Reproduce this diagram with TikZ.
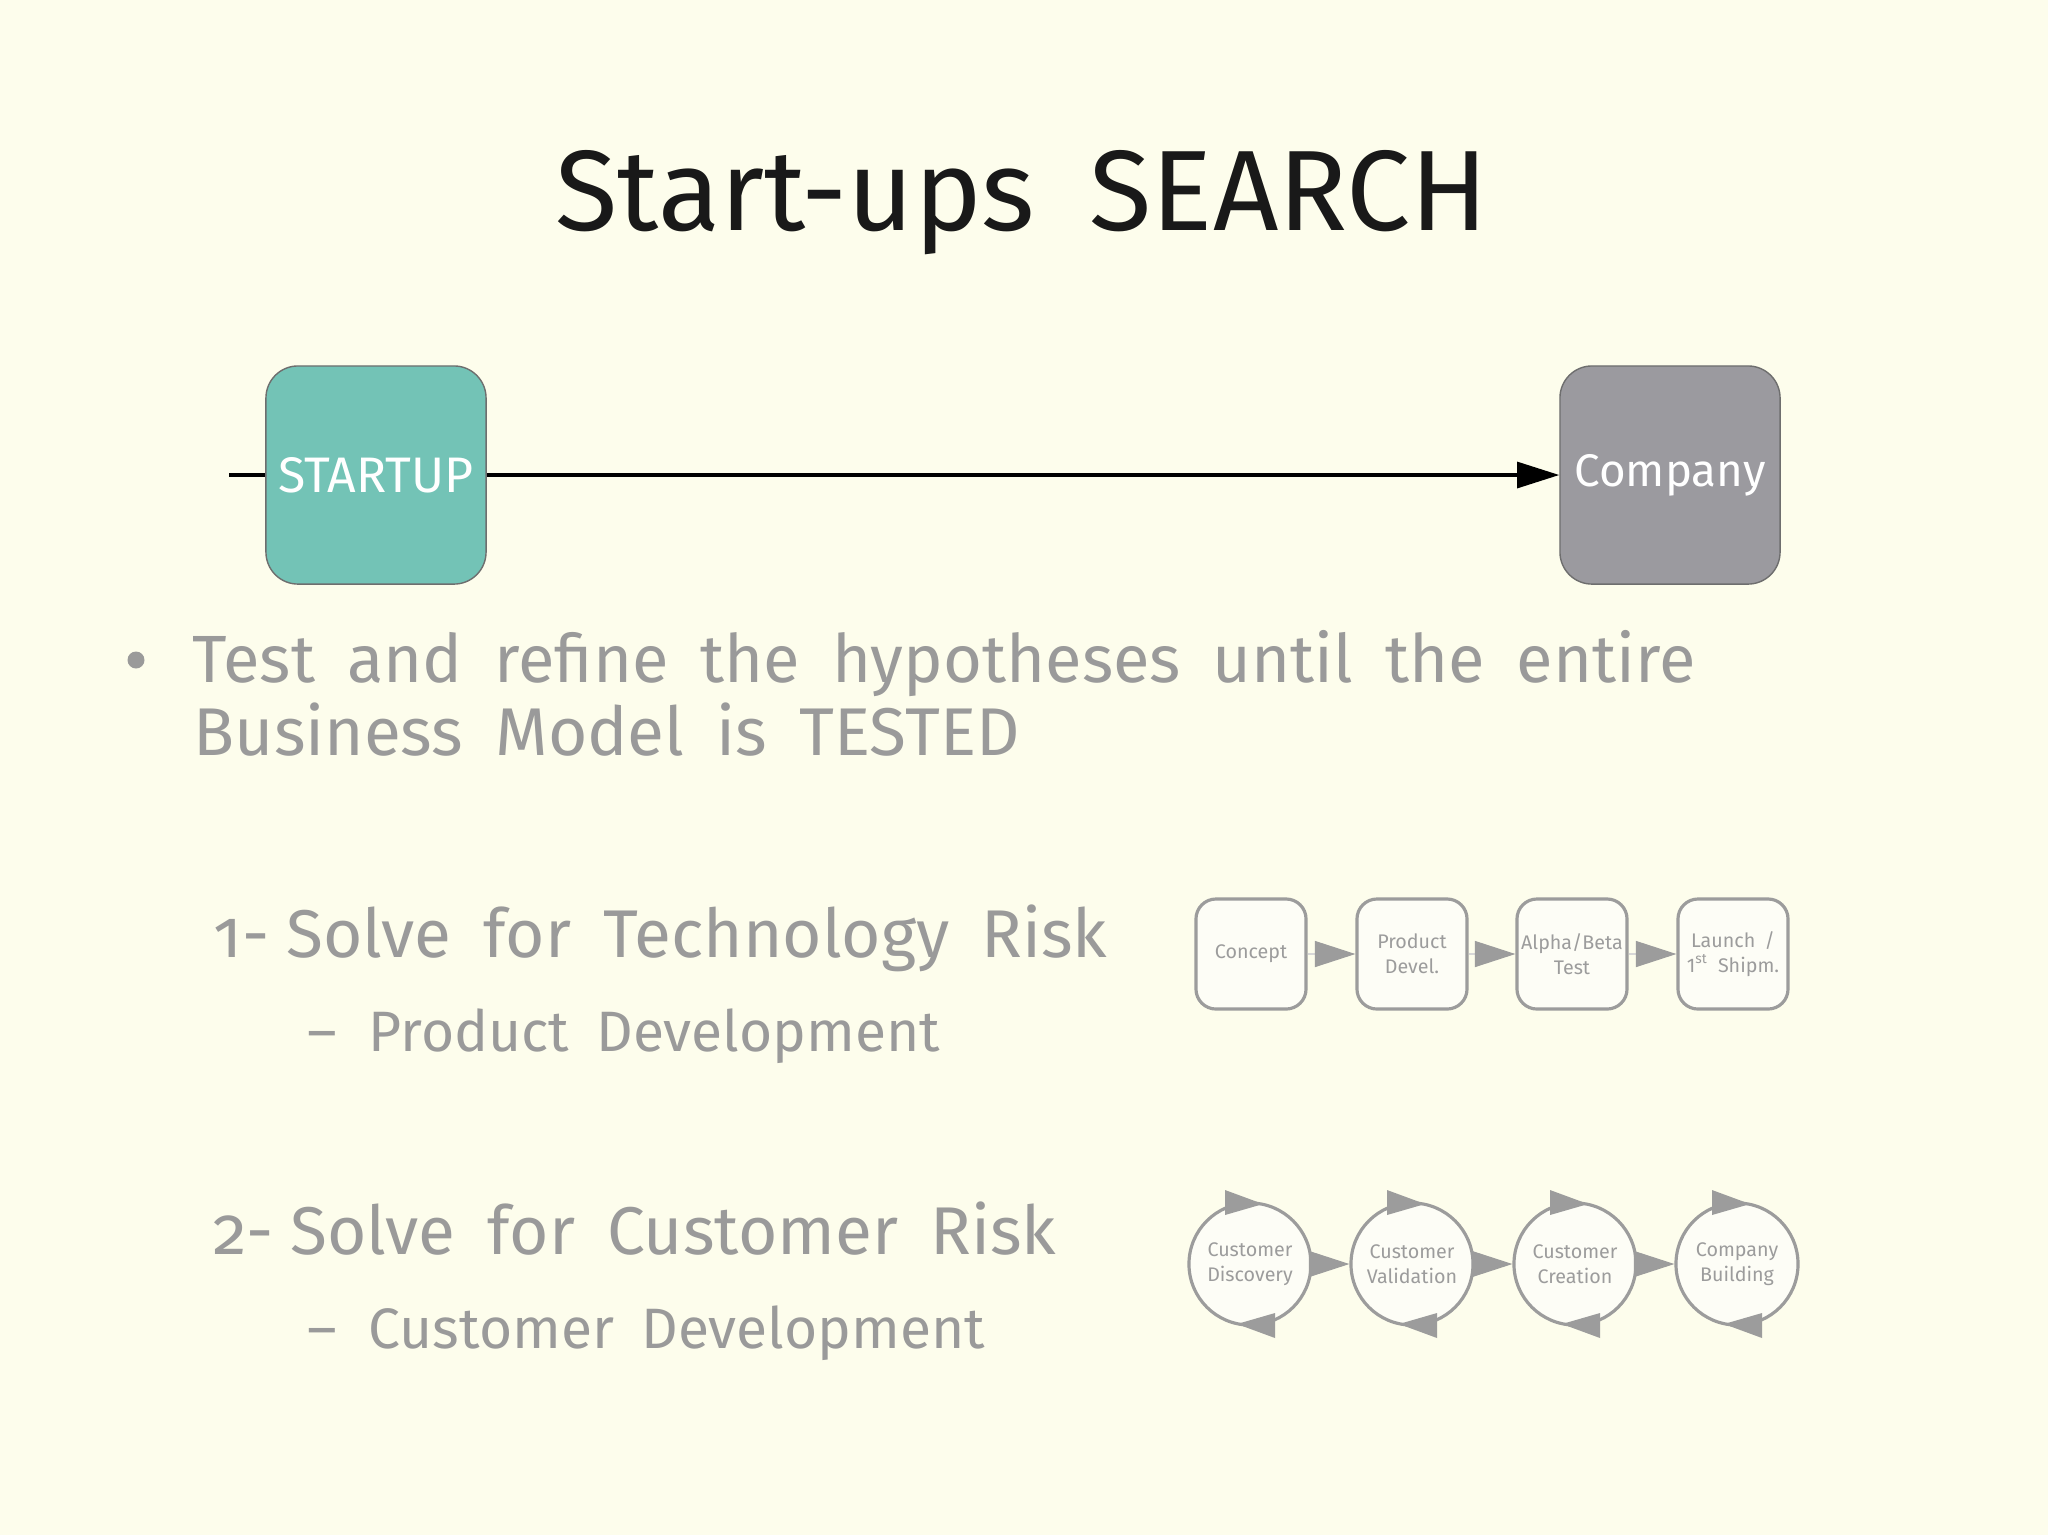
\documentclass[tikz,border=0pt]{standalone}
\usepackage{fontspec}
\setmainfont[Numbers=OldStyle,WordSpace=1.8]{Fira Sans}
\usetikzlibrary{arrows.meta,positioning,calc}

\definecolor{fondo}{HTML}{FDFDEC}
\definecolor{verde}{HTML}{73C3B6}
\definecolor{grisbloque}{HTML}{9B9A9F}
\definecolor{bordegris}{HTML}{6E6E6E}
\definecolor{gristexto}{HTML}{9A9A9A}
\definecolor{grisfino}{HTML}{9C9C9C}
\definecolor{rellenofino}{HTML}{FDFDF6}

\begin{document}
\begin{tikzpicture}[
            x=0.01cm, y=-0.01cm,
            every node/.style={inner sep=0pt},
            grande/.style={draw=bordegris, line width=0.4pt, rounded corners=0.32cm,
                minimum width=2.2cm, minimum height=2.18cm, text=white,
                font=\fontsize{13}{15}\selectfont},
            caja/.style={draw=grisfino, line width=0.9pt, fill=rellenofino, rounded corners=0.2cm,
                minimum width=1.1cm, minimum height=1.1cm, align=center, text=grisfino,
                font=\fontsize{5.6}{7}\selectfont},
            circulo/.style={draw=grisfino, line width=0.9pt, fill=rellenofino, circle,
                minimum size=1.22cm, align=center, text=grisfino,
                font=\fontsize{5.6}{7}\selectfont},
            texto/.style={anchor=base west, text=gristexto},
            flecha/.style={line width=0.9pt, -{Triangle[length=12pt,width=7.4pt]}},
            punta/.style={grisfino!40, line width=0.3pt,
                -{Triangle[length=11.5pt,width=7.4pt,color=grisfino]}}
        ]

        % Fondo de la diapositiva
        \fill[fondo] (0,0) rectangle (2048,1535);
        \useasboundingbox (0,0) rectangle (2048,1535);

        % Titulo
        \node[anchor=base, text=black!90, font=\fontsize{32.5}{38}\selectfont] (titulo) at (1022,230)
        {Start-ups SEARCH};

        % Bloques superiores
        \node[grande, fill=verde, font=\fontsize{14.2}{16}\selectfont] (startup) at (376,475) {STARTUP};
        \node[grande, fill=grisbloque] (company) at (1670,475) {Company};
        \coordinate (inicio) at (229,475);

        \draw[line width=0.9pt] (inicio) -- (startup.west);
        \draw[flecha] (startup.east) -- (company.west);

        % Texto con vineta
        \fill[gristexto] (136,660) circle (8.5);
        \node[texto, font=\fontsize{19}{23}\selectfont] (linea1) at (192,682)
        {Test and refine the hypotheses until the entire};
        \node[texto, font=\fontsize{19.2}{23}\selectfont] (linea2) at (193,755)
        {Business Model is TESTED};

        % Riesgo tecnologico
        \node[texto, font=\fontsize{19.2}{24}\selectfont] (riesgo1) at (213,957)
        {1-\hspace{0.25em}Solve for Technology Risk};
        \node[texto, font=\fontsize{16.2}{21}\selectfont] (guion1) at (307,1051) {--};
        \node[texto, font=\fontsize{16.2}{21}\selectfont] (sub1) at (368,1051)
        {Product Development};

        % Riesgo de cliente
        \node[texto, font=\fontsize{19.2}{24}\selectfont] (riesgo2) at (213,1254)
        {2-\hspace{0.25em}Solve for Customer Risk};
        \node[texto, font=\fontsize{16.2}{21}\selectfont] (guion2) at (307,1348) {--};
        \node[texto, font=\fontsize{16.2}{21}\selectfont] (sub2) at (368,1348)
        {Customer Development};

        % Desarrollo de producto
        \node[caja] (c1) at (1251,954) {Concept};
        \node[caja] (c2) at (1412,954) {Product\\Devel.};
        \node[caja] (c3) at (1572,954) {Alpha/Beta\\Test};
        \node[caja] (c4) at (1733,954) {Launch /\\{\addfontfeatures{Numbers=Lining}1\textsuperscript{st}} Shipm.};

        \foreach \a/\b in {c1/c2, c2/c3, c3/c4}
            \draw[punta] (\a.east) -- (\b.west);

        % Desarrollo de clientes
        \node[circulo] (d1) at (1250,1264) {Customer\\Discovery};
        \node[circulo] (d2) at (1412,1264) {Customer\\Validation};
        \node[circulo] (d3) at (1575,1264) {Customer\\Creation};
        \node[circulo] (d4) at (1737,1264) {Company\\Building};

        \foreach \a/\b in {d1/d2, d2/d3, d3/d4}
            \draw[punta] (\a.east) -- (\b.west);

        % Flechas de ciclo sobre cada circulo
        \foreach \n in {d1,d2,d3,d4} {
            \fill[grisfino] ($(\n.center)+(-25,-74)$) -- ($(\n.center)+(-25,-49)$)
                -- ($(\n.center)+(13,-60)$) -- cycle;
            \fill[grisfino] ($(\n.center)+(25,74)$) -- ($(\n.center)+(25,49)$)
                -- ($(\n.center)+(-13,60)$) -- cycle;
        }

    \end{tikzpicture}
\end{document}
